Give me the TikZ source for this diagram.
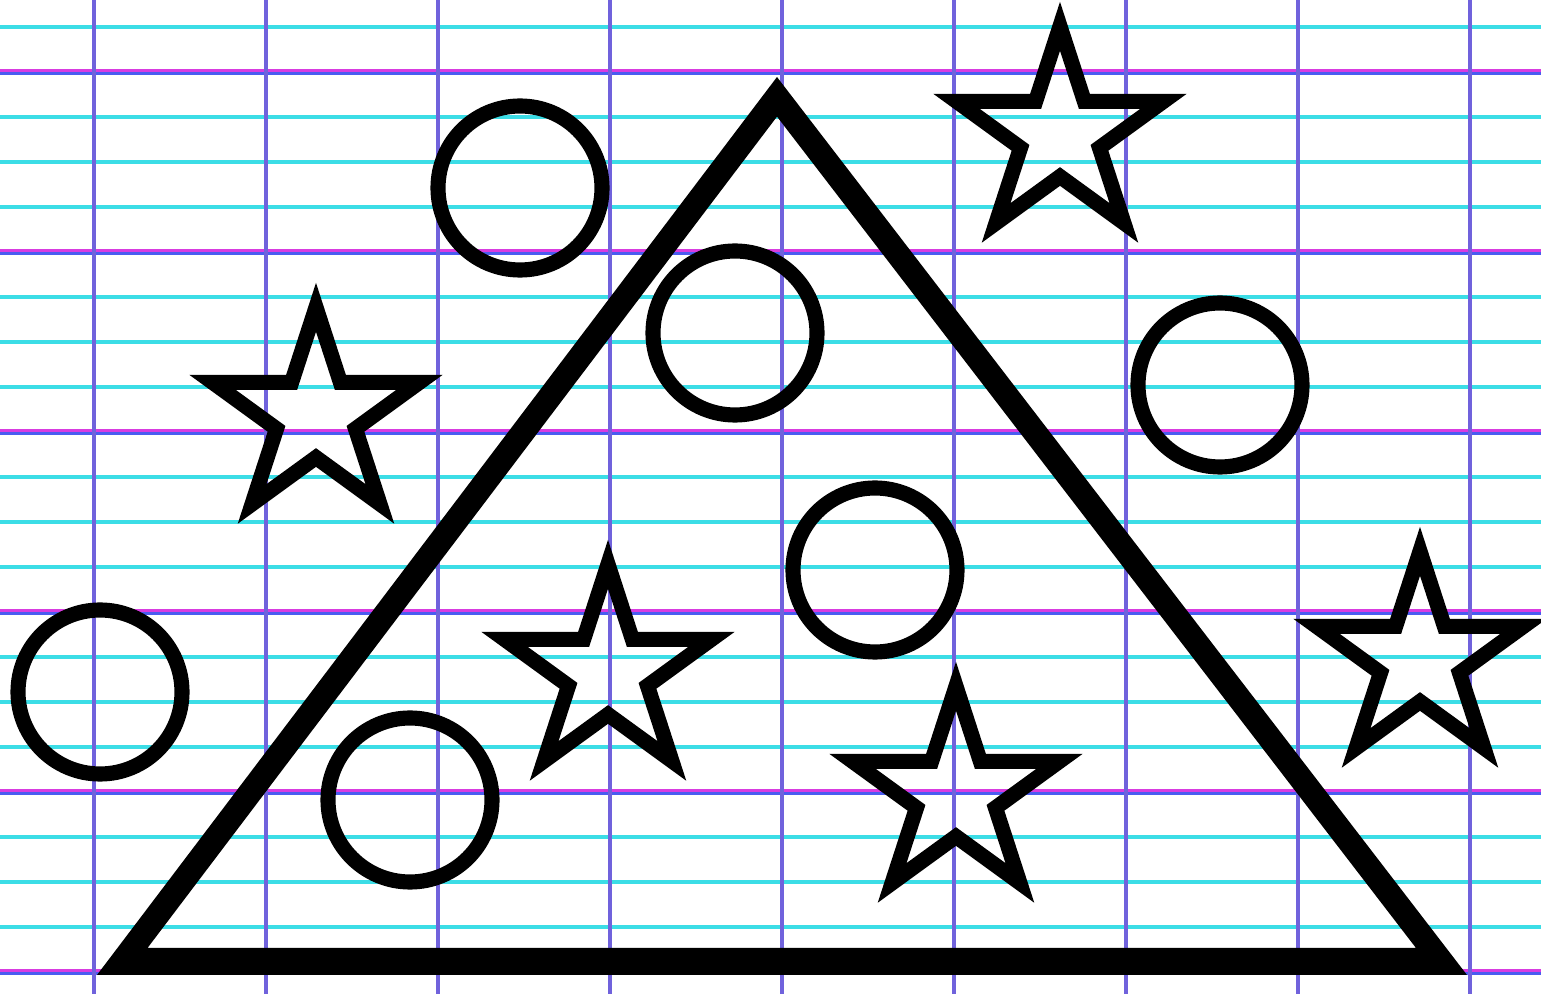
\documentclass[tikz,border=0pt]{standalone}
\usepackage{tikz}
\usepackage{xcolor}
\definecolor{rulecyan}{HTML}{3CDDE6}
\definecolor{rulemagenta}{HTML}{D83CE0}
\definecolor{ruleblue}{HTML}{4A5CF0}
\definecolor{rulevert}{HTML}{7062DC}
\definecolor{ink}{HTML}{000000}
\tikzset{
  cyanrule/.style={draw=rulecyan,line width=1.05pt},
  magrule/.style={draw=rulemagenta,line width=0.85pt},
  bluerule/.style={draw=ruleblue,line width=0.85pt},
  vertrule/.style={draw=rulevert,line width=1.15pt},
  ringline/.style={draw=ink,line width=4.3pt},
  starline/.style={draw=ink,line width=4.3pt,line join=miter},
  starshape/.pic={
    \draw[starline] (-90:108.7) -- (-54:41.5)
      \foreach \a in {-18,54,126,198} { -- (\a:108.7) -- (\a+36:41.5) } -- cycle;
  }
}

\begin{document}
\begin{tikzpicture}[x=0.01cm,y=-0.01cm]
  \useasboundingbox (0,0) rectangle (1541,994);
  \fill[white] (0,0) rectangle (1541,994);

  % ruled paper
  \foreach \k in {0,...,21}
    \draw[cyanrule] (0,27+45*\k) -- (1541,27+45*\k);
  \foreach \k in {0,...,5} {
    \draw[magrule] (0,70.5+180*\k) -- (1541,70.5+180*\k);
    \draw[bluerule] (0,73.5+180*\k) -- (1541,73.5+180*\k);
  }
  \foreach \k in {0,...,8}
    \draw[vertrule] (94+172*\k,0) -- (94+172*\k,994);

  % triangle
  \fill[ink,even odd rule] (97,975) -- (777,77) -- (1467,975) -- cycle
    (147.5,948) -- (777,116.6) -- (1416,948) -- cycle;

  % circles
  \draw[ringline] (520,188) circle[radius=82];
  \draw[ringline] (735,333) circle[radius=82];
  \draw[ringline] (1220,385) circle[radius=82];
  \draw[ringline] (875,570) circle[radius=82];
  \draw[ringline] (100,692) circle[radius=82];
  \draw[ringline] (410,800) circle[radius=82];

  % stars
  \pic at (1060,135) {starshape};
  \pic at (316,416) {starshape};
  \pic at (608,673) {starshape};
  \pic at (956,795) {starshape};
  \pic at (1420,660) {starshape};
\end{tikzpicture}
\end{document}
